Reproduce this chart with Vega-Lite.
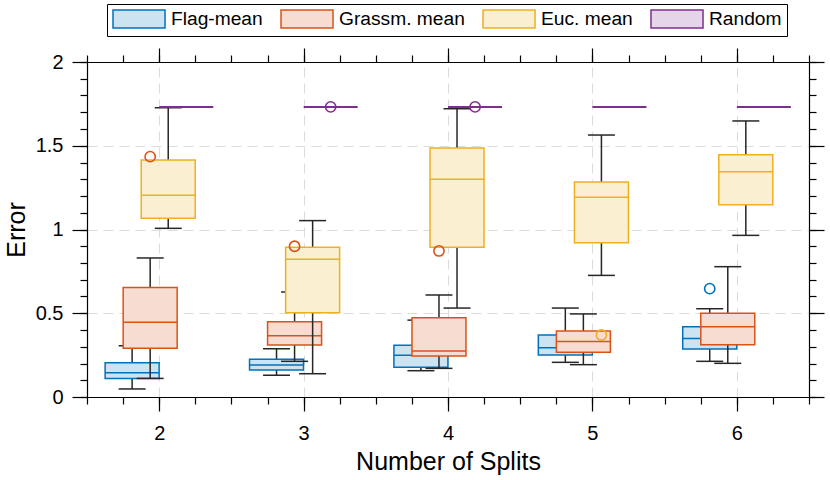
{
  "$schema": "https://vega.github.io/schema/vega-lite/v6.json",
  "width": 722,
  "height": 335,
  "autosize": "none",
  "padding": {"left": 87, "top": 62, "right": 21, "bottom": 83},
  "config": {
    "font": "Liberation Sans",
    "view": {"stroke": null},
    "axis": {
      "domainColor": "#000000",
      "domainWidth": 1.2,
      "tickColor": "#000000",
      "tickWidth": 1.2,
      "labelColor": "#000000",
      "titleColor": "#000000",
      "labelFont": "Liberation Sans",
      "titleFont": "Liberation Sans",
      "titleFontWeight": "normal",
      "gridColor": "#dcdcdc",
      "gridWidth": 1,
      "gridDash": [10, 6]
    },
    "legend": {
      "orient": "none",
      "legendX": 20,
      "legendY": -58,
      "direction": "horizontal",
      "columns": 4,
      "symbolType": "M-1,-1H4.78V1H-1Z",
      "symbolSize": 324,
      "symbolStrokeWidth": 1.5,
      "symbolOpacity": 1,
      "labelFont": "Liberation Sans",
      "labelFontSize": 19.2,
      "labelColor": "#000000",
      "labelOffset": 39,
      "columnPadding": 15,
      "strokeColor": "#000000",
      "padding": 5
    }
  },
  "datasets": {
    "boxes": [
      {"split": 2, "method": "Flag-mean", "lo": 0.048, "q1": 0.111, "med": 0.145, "q3": 0.205, "hi": 0.306},
      {"split": 2, "method": "Grassm. mean", "lo": 0.111, "q1": 0.291, "med": 0.446, "q3": 0.653, "hi": 0.830},
      {"split": 2, "method": "Euc. mean", "lo": 1.007, "q1": 1.067, "med": 1.204, "q3": 1.415, "hi": 1.727},
      {"split": 2, "method": "Random", "lo": 1.732, "q1": 1.732, "med": 1.732, "q3": 1.732, "hi": 1.732},
      {"split": 3, "method": "Flag-mean", "lo": 0.130, "q1": 0.161, "med": 0.191, "q3": 0.225, "hi": 0.288},
      {"split": 3, "method": "Grassm. mean", "lo": 0.213, "q1": 0.310, "med": 0.366, "q3": 0.450, "hi": 0.627},
      {"split": 3, "method": "Euc. mean", "lo": 0.139, "q1": 0.503, "med": 0.822, "q3": 0.894, "hi": 1.053},
      {"split": 3, "method": "Random", "lo": 1.732, "q1": 1.732, "med": 1.732, "q3": 1.732, "hi": 1.732},
      {"split": 4, "method": "Flag-mean", "lo": 0.157, "q1": 0.177, "med": 0.249, "q3": 0.309, "hi": 0.459},
      {"split": 4, "method": "Grassm. mean", "lo": 0.171, "q1": 0.245, "med": 0.275, "q3": 0.473, "hi": 0.609},
      {"split": 4, "method": "Euc. mean", "lo": 0.531, "q1": 0.894, "med": 1.300, "q3": 1.487, "hi": 1.721},
      {"split": 4, "method": "Random", "lo": 1.732, "q1": 1.732, "med": 1.732, "q3": 1.732, "hi": 1.732},
      {"split": 5, "method": "Flag-mean", "lo": 0.207, "q1": 0.251, "med": 0.294, "q3": 0.370, "hi": 0.531},
      {"split": 5, "method": "Grassm. mean", "lo": 0.193, "q1": 0.267, "med": 0.332, "q3": 0.394, "hi": 0.496},
      {"split": 5, "method": "Euc. mean", "lo": 0.726, "q1": 0.921, "med": 1.192, "q3": 1.284, "hi": 1.564},
      {"split": 5, "method": "Random", "lo": 1.732, "q1": 1.732, "med": 1.732, "q3": 1.732, "hi": 1.732},
      {"split": 6, "method": "Flag-mean", "lo": 0.213, "q1": 0.287, "med": 0.350, "q3": 0.420, "hi": 0.527},
      {"split": 6, "method": "Grassm. mean", "lo": 0.201, "q1": 0.312, "med": 0.420, "q3": 0.500, "hi": 0.778},
      {"split": 6, "method": "Euc. mean", "lo": 0.965, "q1": 1.148, "med": 1.345, "q3": 1.447, "hi": 1.648},
      {"split": 6, "method": "Random", "lo": 1.732, "q1": 1.732, "med": 1.732, "q3": 1.732, "hi": 1.732}
    ],
    "outliers": [
      {"split": 2, "method": "Grassm. mean", "value": 1.435},
      {"split": 3, "method": "Grassm. mean", "value": 0.900},
      {"split": 3, "method": "Random", "value": 1.732},
      {"split": 4, "method": "Grassm. mean", "value": 0.872},
      {"split": 4, "method": "Random", "value": 1.732},
      {"split": 5, "method": "Euc. mean", "value": 0.370},
      {"split": 6, "method": "Flag-mean", "value": 0.647}
    ],
    "xrange": [{"v": 1.5}, {"v": 6.5}],
    "yrange": [{"v": 0}, {"v": 2}]
  },
  "layer": [
    {
      "data": {"name": "xrange"},
      "mark": {"type": "point", "opacity": 0},
      "encoding": {
        "x": {"field": "v", "type": "quantitative", "scale": {"domain": [1.5, 6.5], "nice": false, "zero": false},
          "axis": {"orient": "bottom", "values": [2, 3, 4, 5, 6], "format": "d", "tickSize": 14, "labelFontSize": 20, "labelPadding": 12,
            "title": "Number of Splits", "titleFontSize": 25, "titlePadding": 6, "grid": true}}
      }
    },
    {
      "data": {"name": "xrange"},
      "mark": {"type": "point", "opacity": 0},
      "encoding": {
        "x": {"field": "v", "type": "quantitative", "scale": {"domain": [1.5, 6.5], "nice": false, "zero": false},
          "axis": {"orient": "bottom", "values": [1.5, 1.75, 2, 2.25, 2.5, 2.75, 3, 3.25, 3.5, 3.75, 4, 4.25, 4.5, 4.75, 5, 5.25, 5.5, 5.75, 6, 6.25, 6.5],
            "tickSize": 7, "labels": false, "domain": false, "grid": false, "title": null}}
      }
    },
    {
      "data": {"name": "xrange"},
      "mark": {"type": "point", "opacity": 0},
      "encoding": {
        "x": {"field": "v", "type": "quantitative", "scale": {"domain": [1.5, 6.5], "nice": false, "zero": false},
          "axis": {"orient": "top", "values": [2, 3, 4, 5, 6], "tickSize": 14, "labels": false, "grid": false, "title": null}}
      }
    },
    {
      "data": {"name": "xrange"},
      "mark": {"type": "point", "opacity": 0},
      "encoding": {
        "x": {"field": "v", "type": "quantitative", "scale": {"domain": [1.5, 6.5], "nice": false, "zero": false},
          "axis": {"orient": "top", "values": [1.5, 1.75, 2, 2.25, 2.5, 2.75, 3, 3.25, 3.5, 3.75, 4, 4.25, 4.5, 4.75, 5, 5.25, 5.5, 5.75, 6, 6.25, 6.5],
            "tickSize": 7, "labels": false, "domain": false, "grid": false, "title": null}}
      }
    },
    {
      "data": {"name": "yrange"},
      "mark": {"type": "point", "opacity": 0},
      "encoding": {
        "y": {"field": "v", "type": "quantitative", "scale": {"domain": [0, 2], "nice": false, "zero": false},
          "axis": {"orient": "left", "values": [0, 0.5, 1, 1.5, 2], "format": "~g", "tickSize": 15, "labelFontSize": 20, "labelPadding": 9,
            "title": "Error", "titleFontSize": 25, "titlePadding": 6, "grid": true}}
      }
    },
    {
      "data": {"name": "yrange"},
      "mark": {"type": "point", "opacity": 0},
      "encoding": {
        "y": {"field": "v", "type": "quantitative", "scale": {"domain": [0, 2], "nice": false, "zero": false},
          "axis": {"orient": "left", "values": [0, 0.1, 0.2, 0.3, 0.4, 0.5, 0.6, 0.7, 0.8, 0.9, 1, 1.1, 1.2, 1.3, 1.4, 1.5, 1.6, 1.7, 1.8, 1.9, 2],
            "tickSize": 7, "labels": false, "domain": false, "grid": false, "title": null}}
      }
    },
    {
      "data": {"name": "yrange"},
      "mark": {"type": "point", "opacity": 0},
      "encoding": {
        "y": {"field": "v", "type": "quantitative", "scale": {"domain": [0, 2], "nice": false, "zero": false},
          "axis": {"orient": "right", "values": [0, 0.5, 1, 1.5, 2], "tickSize": 15, "labels": false, "grid": false, "title": null}}
      }
    },
    {
      "data": {"name": "yrange"},
      "mark": {"type": "point", "opacity": 0},
      "encoding": {
        "y": {"field": "v", "type": "quantitative", "scale": {"domain": [0, 2], "nice": false, "zero": false},
          "axis": {"orient": "right", "values": [0, 0.1, 0.2, 0.3, 0.4, 0.5, 0.6, 0.7, 0.8, 0.9, 1, 1.1, 1.2, 1.3, 1.4, 1.5, 1.6, 1.7, 1.8, 1.9, 2],
            "tickSize": 7, "labels": false, "domain": false, "grid": false, "title": null}}
      }
    },
    {
      "data": {"name": "boxes"},
      "encoding": {
        "x": {"field": "split", "type": "ordinal", "scale": {"domain": [2, 3, 4, 5, 6], "paddingInner": 0, "paddingOuter": 0}, "axis": null},
        "xOffset": {"field": "method", "type": "nominal", "scale": {"domain": ["Flag-mean", "Grassm. mean", "Euc. mean", "Random"], "range": [36.1, 108.3], "paddingInner": 0, "paddingOuter": 0}}
      },
      "layer": [
        {
          "transform": [{"filter": "datum.method === 'Flag-mean'"}],
          "layer": [
            {"mark": {"type": "rule", "stroke": "#262626", "strokeWidth": 1.5},
             "encoding": {"y": {"field": "lo", "type": "quantitative", "scale": {"domain": [0, 2], "nice": false, "zero": false}, "axis": null}, "y2": {"field": "hi"}}},
            {"mark": {"type": "tick", "color": "#262626", "size": 27, "thickness": 1.5, "opacity": 1},
             "encoding": {"y": {"field": "lo", "type": "quantitative", "scale": {"domain": [0, 2], "nice": false, "zero": false}, "axis": null}}},
            {"mark": {"type": "tick", "color": "#262626", "size": 27, "thickness": 1.5, "opacity": 1},
             "encoding": {"y": {"field": "hi", "type": "quantitative", "scale": {"domain": [0, 2], "nice": false, "zero": false}, "axis": null}}},
            {"mark": {"type": "bar", "width": 54, "strokeWidth": 1.5, "fillOpacity": 1},
             "encoding": {
               "y": {"field": "q1", "type": "quantitative", "scale": {"domain": [0, 2], "nice": false, "zero": false}, "axis": null},
               "y2": {"field": "q3"},
               "fill": {"field": "method", "type": "nominal", "scale": {"domain": ["Flag-mean", "Grassm. mean", "Euc. mean", "Random"], "range": ["#CCE3F2", "#F7DDD1", "#FBEFD2", "#E5D5E8"]}, "legend": {"title": null}},
               "stroke": {"field": "method", "type": "nominal", "scale": {"domain": ["Flag-mean", "Grassm. mean", "Euc. mean", "Random"], "range": ["#0072BD", "#D95319", "#EDB120", "#7E2F8E"]}, "legend": {"title": null}}
             }},
            {"mark": {"type": "bar", "width": 54, "strokeWidth": 1.5, "fillOpacity": 0},
             "encoding": {
               "y": {"field": "med", "type": "quantitative", "scale": {"domain": [0, 2], "nice": false, "zero": false}, "axis": null},
               "y2": {"field": "med"},
               "stroke": {"field": "method", "type": "nominal", "legend": {"title": null}}
             }}
          ]
        },
        {
          "transform": [{"filter": "datum.method === 'Grassm. mean'"}],
          "layer": [
            {"mark": {"type": "rule", "stroke": "#262626", "strokeWidth": 1.5},
             "encoding": {"y": {"field": "lo", "type": "quantitative", "scale": {"domain": [0, 2], "nice": false, "zero": false}, "axis": null}, "y2": {"field": "hi"}}},
            {"mark": {"type": "tick", "color": "#262626", "size": 27, "thickness": 1.5, "opacity": 1},
             "encoding": {"y": {"field": "lo", "type": "quantitative", "scale": {"domain": [0, 2], "nice": false, "zero": false}, "axis": null}}},
            {"mark": {"type": "tick", "color": "#262626", "size": 27, "thickness": 1.5, "opacity": 1},
             "encoding": {"y": {"field": "hi", "type": "quantitative", "scale": {"domain": [0, 2], "nice": false, "zero": false}, "axis": null}}},
            {"mark": {"type": "bar", "width": 54, "strokeWidth": 1.5, "fillOpacity": 1},
             "encoding": {
               "y": {"field": "q1", "type": "quantitative", "scale": {"domain": [0, 2], "nice": false, "zero": false}, "axis": null},
               "y2": {"field": "q3"},
               "fill": {"field": "method", "type": "nominal", "legend": {"title": null}},
               "stroke": {"field": "method", "type": "nominal", "legend": {"title": null}}
             }},
            {"mark": {"type": "bar", "width": 54, "strokeWidth": 1.5, "fillOpacity": 0},
             "encoding": {
               "y": {"field": "med", "type": "quantitative", "scale": {"domain": [0, 2], "nice": false, "zero": false}, "axis": null},
               "y2": {"field": "med"},
               "stroke": {"field": "method", "type": "nominal", "legend": {"title": null}}
             }}
          ]
        },
        {
          "transform": [{"filter": "datum.method === 'Euc. mean'"}],
          "layer": [
            {"mark": {"type": "rule", "stroke": "#262626", "strokeWidth": 1.5},
             "encoding": {"y": {"field": "lo", "type": "quantitative", "scale": {"domain": [0, 2], "nice": false, "zero": false}, "axis": null}, "y2": {"field": "hi"}}},
            {"mark": {"type": "tick", "color": "#262626", "size": 27, "thickness": 1.5, "opacity": 1},
             "encoding": {"y": {"field": "lo", "type": "quantitative", "scale": {"domain": [0, 2], "nice": false, "zero": false}, "axis": null}}},
            {"mark": {"type": "tick", "color": "#262626", "size": 27, "thickness": 1.5, "opacity": 1},
             "encoding": {"y": {"field": "hi", "type": "quantitative", "scale": {"domain": [0, 2], "nice": false, "zero": false}, "axis": null}}},
            {"mark": {"type": "bar", "width": 54, "strokeWidth": 1.5, "fillOpacity": 1},
             "encoding": {
               "y": {"field": "q1", "type": "quantitative", "scale": {"domain": [0, 2], "nice": false, "zero": false}, "axis": null},
               "y2": {"field": "q3"},
               "fill": {"field": "method", "type": "nominal", "legend": {"title": null}},
               "stroke": {"field": "method", "type": "nominal", "legend": {"title": null}}
             }},
            {"mark": {"type": "bar", "width": 54, "strokeWidth": 1.5, "fillOpacity": 0},
             "encoding": {
               "y": {"field": "med", "type": "quantitative", "scale": {"domain": [0, 2], "nice": false, "zero": false}, "axis": null},
               "y2": {"field": "med"},
               "stroke": {"field": "method", "type": "nominal", "legend": {"title": null}}
             }}
          ]
        },
        {
          "transform": [{"filter": "datum.method === 'Random'"}],
          "layer": [
            {"mark": {"type": "bar", "width": 54, "strokeWidth": 2, "fillOpacity": 1},
             "encoding": {
               "y": {"field": "q1", "type": "quantitative", "scale": {"domain": [0, 2], "nice": false, "zero": false}, "axis": null},
               "y2": {"field": "q3"},
               "fill": {"field": "method", "type": "nominal", "legend": {"title": null}},
               "stroke": {"field": "method", "type": "nominal", "legend": {"title": null}}
             }}
          ]
        },
        {
          "data": {"name": "outliers"},
          "mark": {"type": "point", "filled": false, "size": 105, "strokeWidth": 1.6, "opacity": 1},
          "encoding": {
            "y": {"field": "value", "type": "quantitative", "scale": {"domain": [0, 2], "nice": false, "zero": false}, "axis": null},
            "stroke": {"field": "method", "type": "nominal", "legend": {"title": null}}
          }
        }
      ]
    }
  ],
  "resolve": {
    "scale": {"x": "independent"},
    "axis": {"x": "independent", "y": "independent"}
  }
}
